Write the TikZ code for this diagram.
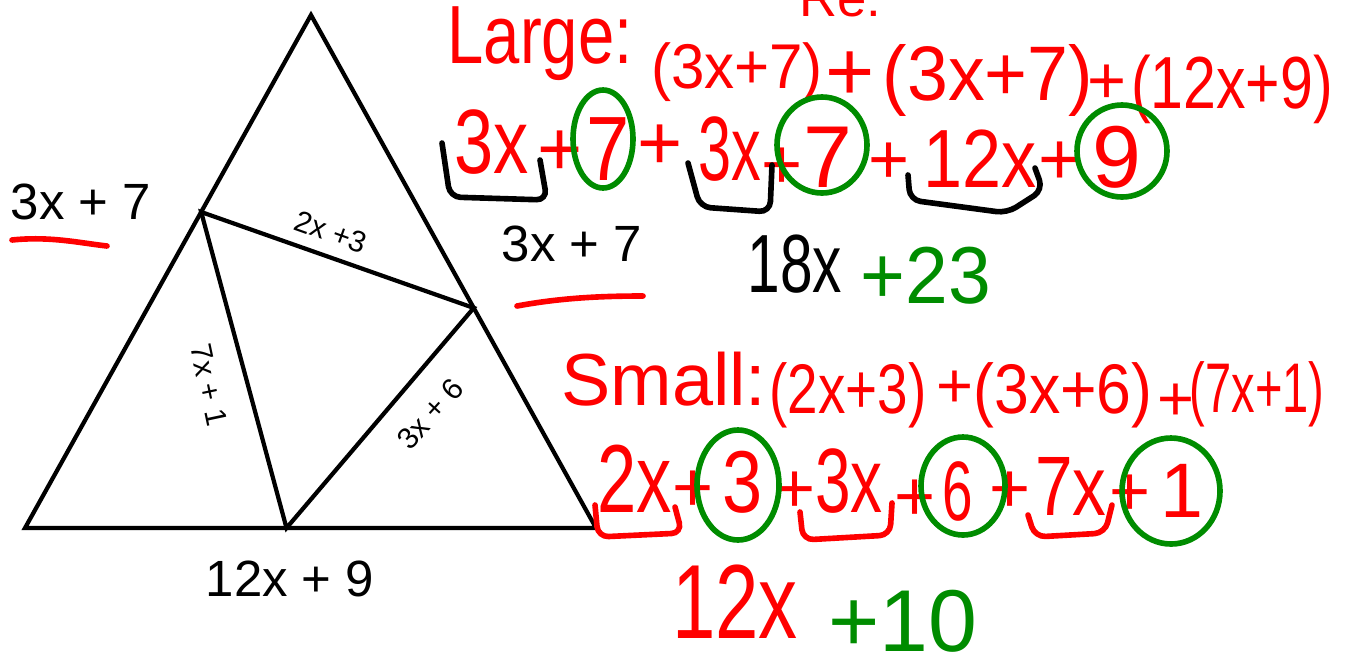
\documentclass[tikz,border=0pt]{standalone}
\usepackage{fontspec}
\setmainfont{Liberation Sans}
\usetikzlibrary{calc}
\definecolor{hgreen}{RGB}{0,140,0}

\begin{document}
\begin{tikzpicture}[x=0.02cm,y=-0.02cm,
  tri/.style={line width=2.4pt},
  lbl/.style={font=\fontsize{29}{29}\selectfont,inner sep=0pt},
  edgelbl/.style={font=\fontsize{17}{17}\selectfont,inner sep=0pt},
  hw/.style={font=\fontsize{#1}{#1}\selectfont,inner sep=0pt,anchor=base,text=red},
  ring/.style={draw=hgreen,line width=3.2pt},
  brk/.style={line width=3.2pt,rounded corners=6pt,line cap=round},
  uline/.style={red,line width=3.2pt,line cap=round}]
  \clip (0,0) rectangle (1348,657);
  % triangles
  \coordinate (A) at (311,15); \coordinate (B) at (25,528); \coordinate (C) at (596,528);
  \coordinate (P) at ($(A)!0.384!(B)$); \coordinate (Q) at ($(A)!0.571!(C)$); \coordinate (R) at ($(B)!0.458!(C)$);
  \draw[tri] (A) -- (B) -- (C) -- cycle;
  \draw[tri] (P) -- (Q) -- (R) -- cycle;
  \node[lbl] (sideL) at (81,202) {3x + 7};
  \node[lbl] (sideR) at (572,244) {3x + 7};
  \node[lbl] (base) at (290,579) {12x + 9};
  \node[edgelbl,rotate=-19.6] (inPQ) at (331,232) {2x +3};
  \node[edgelbl,rotate=-78] (inPR) at (209,385) {7x + 1};
  \node[edgelbl,rotate=48] (inQR) at (430,414) {3x + 6};
  \draw[uline] (12,240) .. controls (50,236) and (80,243) .. (107,246);
  \draw[uline] (517,306) .. controls (560,298) and (600,296) .. (643,296);
  % large
  \node[hw=30] (re) at (840,16) {Re:};
  \node[hw=47,xscale=.79] (lg) at (540,63) {Large:};
  \node[hw=36,xscale=.95] (g1) at (737,88) {(3x+7)};
  \node[hw=48] (p1) at (850,100) {+};
  \node[hw=44,xscale=.95] (g2) at (988,100) {(3x+7)};
  \node[hw=38] (p2) at (1107,103) {+};
  \node[hw=42,xscale=.8] (g3) at (1232,108) {(12x+9)};
  \node[hw=52,xscale=.77] (a3x) at (492,173) {3x};
  \node[hw=44] (ap1) at (560,175) {+};
  \node[hw=52,xscale=.85] (a7) at (608,180) {7};
  \node[hw=44] (ap2) at (660,169) {+};
  \node[hw=52,xscale=.65] (b3x) at (730,180) {3x};
  \node[hw=40] (bp1) at (782,188) {+};
  \node[hw=50] (b7) at (828,187) {7};
  \node[hw=40] (bp2) at (889,183) {+};
  \node[hw=47,xscale=.85] (c12x) at (980,187) {12x};
  \node[hw=42] (cp) at (1060,184) {+};
  \node[hw=50] (c9) at (1117,187) {9};
  \draw[ring] (603,139) ellipse (30 and 49);
  \draw[ring] (822,145) ellipse (45 and 48);
  \draw[ring] (1122,151) ellipse (45 and 46);
  \draw[brk] (442,143) -- (450,197) -- (547,200) -- (540,160);
  \draw[brk] (688,163) -- (700,207) -- (770,212) -- (772,165);
  \draw[brk] (908,175) -- (910,200) -- (1007,213) -- (1043,190) -- (1035,168);
  \node[hw=47,xscale=.71,text=black] (sum18) at (795,292) {18x};
  \node[hw=46,xscale=.95,text=hgreen] (sum23) at (926,303) {+23};
  % small
  \node[hw=42] (sm) at (664,405) {Small:};
  \node[hw=40,xscale=.78] (h1) at (848,413) {(2x+3)};
  \node[hw=36] (q1) at (955,407) {+};
  \node[hw=40,xscale=.89] (h2) at (1063,413) {(3x+6)};
  \node[hw=36] (q2) at (1176,420) {+};
  \node[hw=40,xscale=.67] (h3) at (1257,412) {(7x+1)};
  \node[hw=55,xscale=.73] (d2x) at (635,512) {2x};
  \node[hw=40] (dp1) at (693,511) {+};
  \node[hw=50,xscale=.82] (d3) at (743,512) {3};
  \node[hw=40] (dp2) at (795,512) {+};
  \node[hw=52,xscale=.7] (e3x) at (849,512) {3x};
  \node[hw=40] (ep) at (915,520) {+};
  \node[hw=48,xscale=.65] (e6) at (958,520) {6};
  \node[hw=40] (fp1) at (1010,512) {+};
  \node[hw=48,xscale=.8] (f7x) at (1071,515) {7x};
  \node[hw=40] (fp2) at (1130,515) {+};
  \node[hw=44] (f1) at (1182,517) {1};
  \draw[ring] (738,485) ellipse (41 and 55);
  \draw[ring] (963,486) ellipse (42 and 49);
  \draw[ring] (1171,491) ellipse (49 and 53);
  \draw[brk,red] (595,505) -- (598,537) -- (682,533) -- (675,507);
  \draw[brk,red] (800,512) -- (803,540) -- (890,535) -- (892,503);
  \draw[brk,red] (1028,515) -- (1035,537) -- (1105,533) -- (1112,505);
  \node[hw=60,xscale=.74] (r12x) at (735,638) {12x};
  \node[hw=50,text=hgreen] (r10) at (903,651) {+10};
\end{tikzpicture}
\end{document}
